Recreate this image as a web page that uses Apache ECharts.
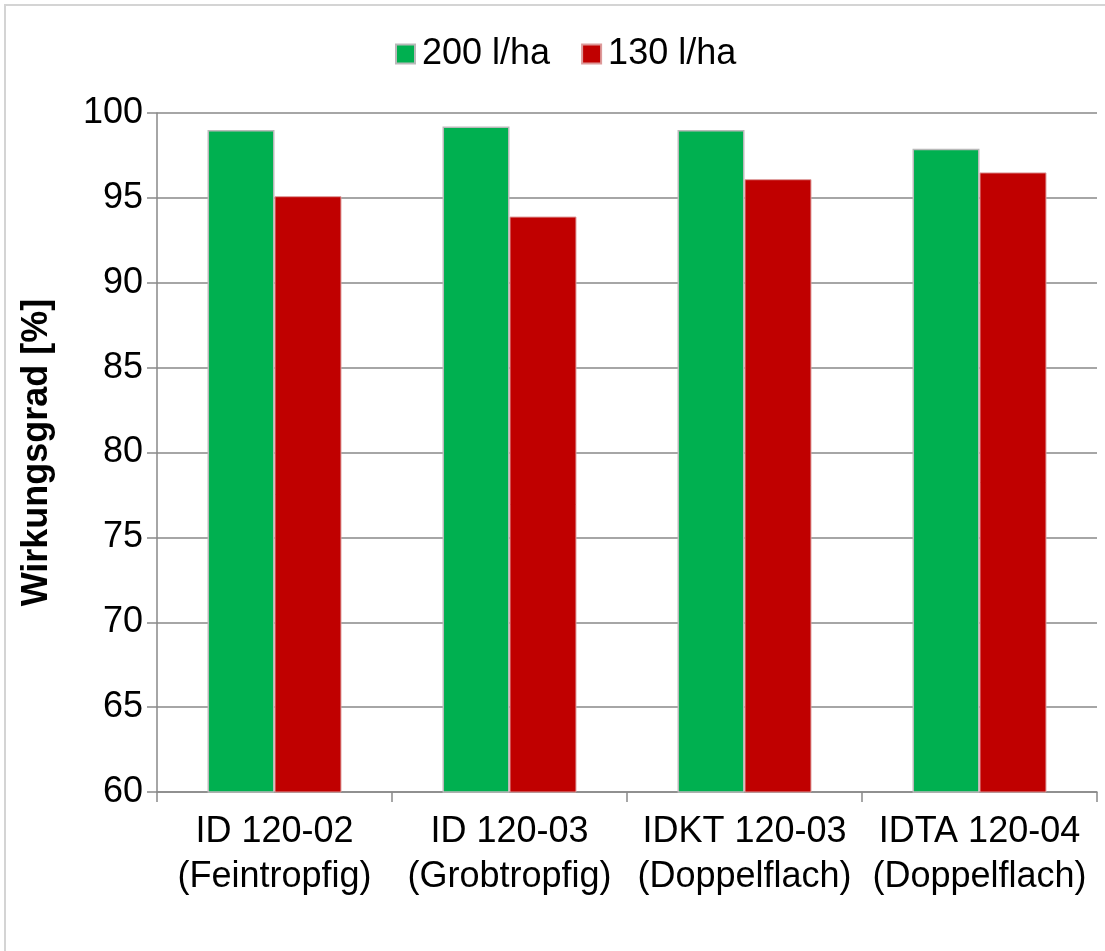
<!DOCTYPE html>
<html>
<head>
<meta charset="utf-8">
<script src="https://cdn.jsdelivr.net/npm/echarts@6/dist/echarts.min.js"></script>
<style>
  html, body { margin: 0; padding: 0; background: #fff; }
  #chart { width: 1105px; height: 951px; }
</style>
</head>
<body>
<div id="chart"></div>
<script>
// Nozzle types (two-line labels)
const categories = [
  'ID 120-02\n(Feintropfig)',
  'ID 120-03\n(Grobtropfig)',
  'IDKT 120-03\n(Doppelflach)',
  'IDTA 120-04\n(Doppelflach)'
];
const seriesNames = ['200 l/ha', '130 l/ha'];
// Efficiency in percent
const values200 = [99.0, 99.2, 99.0, 97.9];
const values130 = [95.1, 93.9, 96.1, 96.5];
const yTicks = [60, 65, 70, 75, 80, 85, 90, 95, 100];

const FONT = '"Liberation Sans", Arial, sans-serif';
const GRID_COLOR = '#898989';

const chart = echarts.init(document.getElementById('chart'), null, { renderer: 'canvas' });

chart.setOption({
  backgroundColor: '#fff',
  animation: false,
  textStyle: { fontFamily: FONT },
  graphic: [{
    type: 'rect',
    shape: { x: 5, y: 5, width: 1300, height: 1300 },
    style: { fill: 'none', stroke: '#d4d4d4', lineWidth: 2 },
    silent: true
  }],
  legend: {
    data: seriesNames,
    left: 390,
    top: 31,
    itemWidth: 19,
    itemHeight: 19,
    itemGap: 31,
    icon: 'rect',
    textStyle: { fontFamily: FONT, fontSize: 36, color: '#000', padding: [0, 0, 0, 2] }
  },
  grid: { left: 157, right: 8, top: 113, bottom: 159, containLabel: false },
  xAxis: {
    type: 'category',
    data: categories,
    axisLine: { lineStyle: { color: GRID_COLOR, width: 1.5 } },
    axisTick: { show: true, length: 10, alignWithLabel: false, lineStyle: { color: GRID_COLOR, width: 1.5 } },
    axisLabel: {
      interval: 0,
      margin: 18,
      fontFamily: FONT,
      fontSize: 36,
      lineHeight: 45,
      color: '#000'
    }
  },
  yAxis: {
    type: 'value',
    min: yTicks[0],
    max: yTicks[yTicks.length - 1],
    interval: 5,
    name: 'Wirkungsgrad [%]',
    nameLocation: 'middle',
    nameGap: 102,
    nameRotate: 90,
    nameTextStyle: { fontFamily: FONT, fontSize: 36, fontWeight: 'bold', color: '#000' },
    axisLine: { show: true, lineStyle: { color: GRID_COLOR, width: 1.5 } },
    axisTick: { show: true, length: 10, lineStyle: { color: GRID_COLOR, width: 1.5 } },
    axisLabel: { margin: 14, fontFamily: FONT, fontSize: 36, color: '#000' },
    splitLine: { show: true, lineStyle: { color: GRID_COLOR, width: 1.5 } }
  },
  series: [
    {
      name: seriesNames[0],
      type: 'bar',
      data: values200,
      barGap: '0%',
      barCategoryGap: '43%',
      itemStyle: { color: '#00B050', borderColor: '#b9b9b9', borderWidth: 1.5 }
    },
    {
      name: seriesNames[1],
      type: 'bar',
      data: values130,
      barGap: '0%',
      barCategoryGap: '43%',
      itemStyle: { color: '#C00000', borderColor: '#dd9a9a', borderWidth: 1 }
    }
  ]
});
</script>
</body>
</html>
